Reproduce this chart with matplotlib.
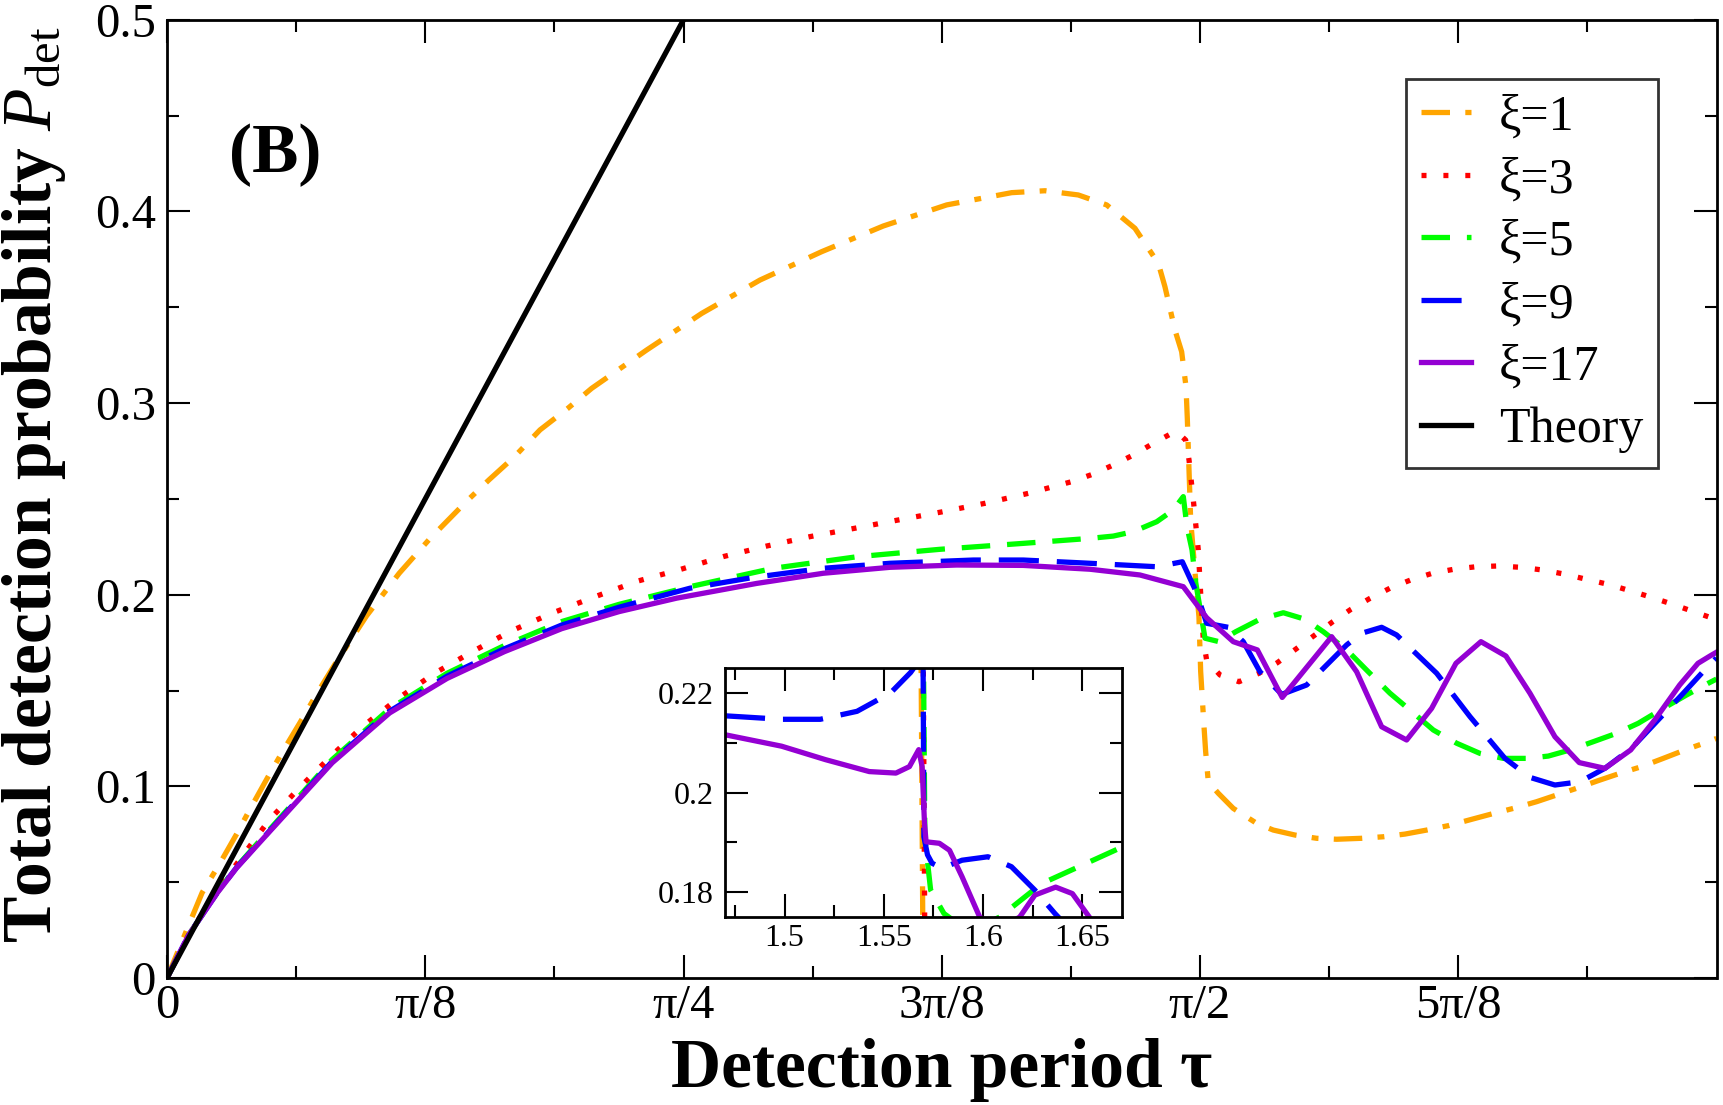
import matplotlib
matplotlib.use("Agg")
import matplotlib.pyplot as plt
from matplotlib.ticker import FixedLocator, MultipleLocator, FuncFormatter

# ------------------------------------------------------------------
# Data
# ------------------------------------------------------------------
tau_xi1 = [0, 0.0359, 0.0534, 0.0824, 0.1057, 0.1261, 0.1553, 0.1756, 0.2018, 0.2308,
           0.2541, 0.3035, 0.3531, 0.3996, 0.4548, 0.4898, 0.5277, 0.5672, 0.6090, 0.6458,
           0.7294, 0.8131, 0.9017, 0.9955, 1.0892, 1.1856, 1.2844, 1.3351, 1.3857, 1.4289,
           1.4719, 1.5074, 1.5175, 1.5327, 1.5429, 1.5495, 1.5515, 1.5566, 1.5642, 1.5692,
           1.5718, 1.5769, 1.5794, 1.5834, 1.5986, 1.6214, 1.6570, 1.6822, 1.7152, 1.7482,
           1.7786, 1.8166, 1.8495, 1.8825, 1.9155, 1.9484, 1.9839, 2.0143, 2.0472, 2.0827,
           2.1131, 2.1435, 2.1764, 2.2093, 2.2423, 2.2752, 2.3082, 2.3437, 2.3562]
p_xi1 = [0, 0.0300, 0.0445, 0.0610, 0.0750, 0.0880, 0.1060, 0.1180, 0.1330, 0.1500,
         0.1630, 0.1890, 0.2112, 0.2292, 0.2485, 0.2600, 0.2718, 0.2860, 0.2971, 0.3077,
         0.3277, 0.3468, 0.3642, 0.3790, 0.3924, 0.4034, 0.4098, 0.4108, 0.4086, 0.4034,
         0.3912, 0.3729, 0.3607, 0.3381, 0.3268, 0.3086, 0.2920, 0.2390, 0.2077, 0.1885,
         0.1600, 0.1311, 0.1181, 0.1024, 0.0964, 0.0885, 0.0807, 0.0772, 0.0746, 0.0729,
         0.0724, 0.0729, 0.0737, 0.0751, 0.0772, 0.0795, 0.0828, 0.0856, 0.0885, 0.0920,
         0.0955, 0.0990, 0.1030, 0.1068, 0.1103, 0.1146, 0.1190, 0.1233, 0.1250]

tau_xi3 = [0, 0.033, 0.0766, 0.1145, 0.1553, 0.2018, 0.2483, 0.2977, 0.3531, 0.4083,
           0.4665, 0.5246, 0.5886, 0.6527, 0.7167, 0.7807, 0.8459, 0.9118, 0.9777, 1.0462,
           1.1120, 1.1780, 1.2438, 1.3097, 1.3757, 1.4086, 1.4390, 1.4694, 1.4998, 1.5277,
           1.5353, 1.5490, 1.5541, 1.5617, 1.5682, 1.5718, 1.5758, 1.5809, 1.6012, 1.6301,
           1.6604, 1.6883, 1.7180, 1.7456, 1.7726, 1.8004, 1.8293, 1.8597, 1.8911, 1.9241,
           1.9570, 1.9904, 2.0244, 2.0585, 2.0919, 2.1258, 2.1588, 2.1917, 2.2246, 2.2577,
           2.2896, 2.3220, 2.3562]
p_xi3 = [0, 0.0225, 0.0460, 0.0635, 0.0824, 0.0994, 0.1154, 0.1313, 0.1463, 0.1593,
         0.1707, 0.1813, 0.1908, 0.1992, 0.2072, 0.2132, 0.2199, 0.2254, 0.2303, 0.2347,
         0.2390, 0.2432, 0.2477, 0.2529, 0.2590, 0.2630, 0.2677, 0.2729, 0.2790, 0.2842,
         0.2851, 0.2807, 0.2703, 0.2459, 0.2233, 0.2007, 0.1764, 0.1659, 0.1581, 0.1546,
         0.1590, 0.1645, 0.1720, 0.1790, 0.1859, 0.1924, 0.1981, 0.2034, 0.2077, 0.2112,
         0.2133, 0.2146, 0.2150, 0.2143, 0.2129, 0.2107, 0.2080, 0.2054, 0.2021, 0.1986,
         0.1950, 0.1911, 0.1870]

tau_xi5 = [0, 0.033, 0.0766, 0.1057, 0.1639, 0.2512, 0.3385, 0.4258, 0.5131, 0.6003,
           0.6876, 0.7953, 0.9220, 1.0488, 1.1754, 1.3021, 1.4035, 1.4390, 1.4694, 1.5050,
           1.5302, 1.5454, 1.5510, 1.5587, 1.5642, 1.5784, 1.5997, 1.6251, 1.6620, 1.6975,
           1.7304, 1.7583, 1.7938, 1.8267, 1.8597, 1.8901, 1.9256, 1.9611, 1.9965, 2.0320,
           2.0675, 2.1004, 2.1334, 2.1688, 2.2043, 2.2372, 2.2752, 2.3107, 2.3437, 2.3562]
p_xi5 = [0, 0.0225, 0.0448, 0.0580, 0.0805, 0.1140, 0.1405, 0.1590, 0.1735, 0.1860,
         0.1950, 0.2042, 0.2138, 0.2198, 0.2237, 0.2268, 0.2294, 0.2306, 0.2329, 0.2381,
         0.2442, 0.2512, 0.2355, 0.2233, 0.2066, 0.1773, 0.1755, 0.1807, 0.1872, 0.1906,
         0.1872, 0.1807, 0.1712, 0.1598, 0.1486, 0.1398, 0.1294, 0.1225, 0.1172, 0.1146,
         0.1146, 0.1158, 0.1190, 0.1233, 0.1277, 0.1329, 0.1407, 0.1477, 0.1538, 0.1560]

tau_xi9 = [0, 0.033, 0.0766, 0.1057, 0.1639, 0.2512, 0.3385, 0.4258, 0.5131, 0.6003,
           0.6876, 0.7953, 0.8910, 0.9980, 1.0994, 1.2261, 1.3021, 1.4035, 1.5050, 1.5439,
           1.5657, 1.5809, 1.6138, 1.6366, 1.6620, 1.6950, 1.7330, 1.7938, 1.8166, 1.8470,
           1.8698, 1.9307, 1.9813, 2.0345, 2.0725, 2.1105, 2.1485, 2.1865, 2.2271, 2.2651,
           2.3057, 2.3381, 2.3562]
p_xi9 = [0, 0.0225, 0.0446, 0.0576, 0.0798, 0.1130, 0.1392, 0.1575, 0.1718, 0.1842,
         0.1935, 0.2034, 0.2090, 0.2138, 0.2164, 0.2181, 0.2181, 0.2164, 0.2146, 0.2172,
         0.2010, 0.1851, 0.1830, 0.1755, 0.1598, 0.1480, 0.1529, 0.1738, 0.1799, 0.1830,
         0.1790, 0.1590, 0.1364, 0.1146, 0.1047, 0.1007, 0.1024, 0.1094, 0.1199, 0.1338,
         0.1486, 0.1607, 0.1670]

tau_xi17 = [0, 0.033, 0.0766, 0.1057, 0.1639, 0.2512, 0.3385, 0.4258, 0.5131, 0.6003,
            0.6876, 0.7749, 0.8967, 0.9980, 1.0994, 1.2008, 1.3021, 1.4035, 1.4795, 1.5454,
            1.5809, 1.5987, 1.6214, 1.6580, 1.6958, 1.7710, 1.8090, 1.8470, 1.8850, 1.9230,
            1.9600, 1.9980, 2.0360, 2.0725, 2.1105, 2.1475, 2.1865, 2.2257, 2.2622, 2.3002,
            2.3280, 2.3462, 2.3562]
p_xi17 = [0, 0.0225, 0.0445, 0.0574, 0.0794, 0.1123, 0.1383, 0.1563, 0.1703, 0.1823,
          0.1912, 0.1982, 0.2059, 0.2112, 0.2143, 0.2155, 0.2153, 0.2133, 0.2103, 0.2042,
          0.1880, 0.1825, 0.1755, 0.1712, 0.1464, 0.1781, 0.1598, 0.1311, 0.1242, 0.1407,
          0.1642, 0.1755, 0.1680, 0.1486, 0.1259, 0.1124, 0.1094, 0.1190, 0.1346, 0.1529,
          0.1642, 0.1680, 0.1700]

tau_theory = [0.0, 0.7854]
p_theory = [0.0, 0.5]

# finer data around tau = pi/2 shown in the inset
ins_tau_xi1 = [1.5500, 1.5600, 1.5675, 1.5688, 1.5697, 1.5750]
ins_p_xi1 = [0.3000, 0.2600, 0.2350, 0.2250, 0.1700, 0.1400]
ins_tau_xi3 = [1.5500, 1.5650, 1.5699, 1.5706, 1.5740]
ins_p_xi3 = [0.2720, 0.2360, 0.2255, 0.1740, 0.1680]
ins_tau_xi5 = [1.5500, 1.5650, 1.5700, 1.5707, 1.5719, 1.5736, 1.5803, 1.5930, 1.6084,
               1.6295, 1.6687, 1.6750]
ins_p_xi5 = [0.2380, 0.2290, 0.2265, 0.1910, 0.1865, 0.1804, 0.1757, 0.1720, 0.1750,
             0.1817, 0.1888, 0.1900]
ins_tau_xi9 = [1.4700, 1.4985, 1.5180, 1.5365, 1.5534, 1.5635, 1.5660, 1.5680, 1.5698,
               1.5702, 1.5720, 1.5743, 1.5793, 1.5894, 1.6025, 1.6143, 1.6261, 1.6362,
               1.6450, 1.6750]
ins_p_xi9 = [0.2154, 0.2147, 0.2147, 0.2163, 0.2200, 0.2241, 0.2255, 0.2290, 0.2260,
             0.1911, 0.1875, 0.1858, 0.1848, 0.1864, 0.1871, 0.1851, 0.1804, 0.1757,
             0.1720, 0.1600]
ins_tau_xi17 = [1.4700, 1.4985, 1.5206, 1.5427, 1.5561, 1.5629, 1.5676, 1.5693, 1.5705,
                1.5713, 1.5780, 1.5831, 1.5894, 1.5983, 1.6080, 1.6185, 1.6261, 1.6366,
                1.6450, 1.6535, 1.6600, 1.6750]
ins_p_xi17 = [0.2116, 0.2093, 0.2066, 0.2042, 0.2039, 0.2052, 0.2086, 0.2052, 0.1938,
              0.1901, 0.1898, 0.1884, 0.1831, 0.1750, 0.1725, 0.1750, 0.1794, 0.1810,
              0.1797, 0.1750, 0.1712, 0.1600]

labels = ["ξ=1", "ξ=3", "ξ=5", "ξ=9", "ξ=17", "Theory"]
colors = ["#FFA500", "#FF0000", "#00FF00", "#0000FF", "#9400D3", "#000000"]
dashes = [(0, (5.4, 2.9, 1.3, 2.9)), (0, (0.95, 3.2)), (0, (5.4, 3.2)),
          (0, (7.6, 3.4)), "-", "-"]

xtick_vals = [0, 0.3927, 0.7854, 1.1781, 1.5708, 1.9635]
xtick_labels = ["0", "π/8", "π/4", "3π/8", "π/2", "5π/8"]

# ------------------------------------------------------------------
# Plot
# ------------------------------------------------------------------
plt.rcParams["font.family"] = ["Liberation Serif", "DejaVu Serif"]
plt.rcParams["mathtext.fontset"] = "custom"
plt.rcParams["mathtext.rm"] = "Liberation Serif"
plt.rcParams["mathtext.it"] = "Liberation Serif:italic"
plt.rcParams["mathtext.bf"] = "Liberation Serif:bold"

W, H = 1723, 1105
LW = 3.8
fig = plt.figure(figsize=(W / 100, H / 100), dpi=100)
ax = fig.add_axes([167 / W, 1 - 978 / H, 1549.5 / W, 958.2 / H])

main_series = [(tau_xi1, p_xi1), (tau_xi3, p_xi3), (tau_xi5, p_xi5),
               (tau_xi9, p_xi9), (tau_xi17, p_xi17), (tau_theory, p_theory)]
for (t, p), lab, c, ls in zip(main_series, labels, colors, dashes):
    ax.plot(t, p, color=c, linestyle=ls, lw=LW, label=lab)

ax.set_xlim(0, 2.35619)
ax.set_ylim(0, 0.5)
ax.xaxis.set_major_locator(FixedLocator(xtick_vals))
ax.set_xticklabels(xtick_labels)
ax.xaxis.set_minor_locator(MultipleLocator(0.19635))
ax.yaxis.set_major_locator(MultipleLocator(0.1))
ax.yaxis.set_minor_locator(MultipleLocator(0.05))
ax.yaxis.set_major_formatter(FuncFormatter(lambda v, _: "%g" % round(v, 3)))
ax.tick_params(which="both", direction="in", top=True, right=True, width=1.5)
ax.tick_params(which="major", length=16.5, labelsize=35)
ax.tick_params(which="minor", length=8.3)
ax.tick_params(axis="x", which="major", pad=4)
ax.tick_params(axis="y", which="major", pad=8)
for s in ax.spines.values():
    s.set_linewidth(2)

ax.set_xlabel("Detection period τ", fontsize=50, fontweight="bold")
ax.xaxis.set_label_coords(0.5, -0.063)
ax.set_ylabel(r"Total detection probability $P_{\mathrm{det}}$", fontsize=50,
              fontweight="bold")
ax.yaxis.set_label_coords(-0.064, 0.515)

ax.text(0.0697, 0.8415, "(B)", transform=ax.transAxes, fontsize=50,
        fontweight="bold", ha="center", va="baseline")

leg = ax.legend(loc="upper right", bbox_to_anchor=(0.9624, 0.9379), fontsize=36,
                frameon=True, fancybox=False, borderaxespad=0, borderpad=0.3,
                labelspacing=0.32, handlelength=1.0, handletextpad=0.55)
leg.get_frame().set_edgecolor("black")
leg.get_frame().set_linewidth(2)

# ------------------------------------------------------------------
# Inset
# ------------------------------------------------------------------
axi = fig.add_axes([725 / W, 1 - 917 / H, 397 / W, 249 / H])
inset_series = [(ins_tau_xi1, ins_p_xi1), (ins_tau_xi3, ins_p_xi3),
                (ins_tau_xi5, ins_p_xi5), (ins_tau_xi9, ins_p_xi9),
                (ins_tau_xi17, ins_p_xi17)]
for (t, p), c, ls in zip(inset_series, colors, dashes):
    axi.plot(t, p, color=c, linestyle=ls, lw=LW)

axi.set_xlim(1.47, 1.67)
axi.set_ylim(0.175, 0.225)
axi.xaxis.set_major_locator(MultipleLocator(0.05))
axi.xaxis.set_minor_locator(MultipleLocator(0.025))
axi.yaxis.set_major_locator(MultipleLocator(0.02))
axi.yaxis.set_minor_locator(MultipleLocator(0.01))
fmt = FuncFormatter(lambda v, _: "%g" % round(v, 4))
axi.xaxis.set_major_formatter(fmt)
axi.yaxis.set_major_formatter(fmt)
axi.tick_params(which="both", direction="in", top=True, right=True, width=1.5)
axi.tick_params(which="major", length=16.5, labelsize=23)
axi.tick_params(which="minor", length=8.3)
axi.tick_params(axis="x", which="major", pad=5)
axi.tick_params(axis="y", which="major", pad=8)
for s in axi.spines.values():
    s.set_linewidth(2)

fig.savefig("out.png", dpi=100)
